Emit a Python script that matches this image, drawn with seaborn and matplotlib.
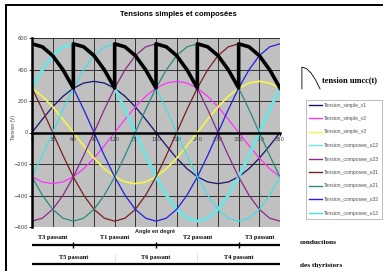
import matplotlib
matplotlib.use("Agg")
import matplotlib.pyplot as plt
from matplotlib.lines import Line2D
from matplotlib.patches import Rectangle
import seaborn as sns

# ------------------ DONNEES ------------------ #

angles = [0, 15, 30, 45, 60, 75, 90, 105, 120, 135, 150, 165, 180,
          195, 210, 225, 240, 255, 270, 285, 300, 315, 330, 345, 360]

v1 = [0, 84, 163, 230, 281, 314, 325, 314, 281, 230, 163, 84, 0,
      -84, -163, -230, -281, -314, -325, -314, -281, -230, -163, -84, 0]
v2 = [-281, -314, -325, -314, -281, -230, -163, -84, 0, 84, 163, 230, 281,
      314, 325, 314, 281, 230, 163, 84, 0, -84, -163, -230, -281]
v3 = [281, 230, 163, 84, 0, -84, -163, -230, -281, -314, -325, -314, -281,
      -230, -163, -84, 0, 84, 163, 230, 281, 314, 325, 314, 281]
u12 = [282, 398, 488, 544, 563, 544, 488, 398, 282, 146, 0, -146, -282,
       -398, -488, -544, -563, -544, -488, -398, -282, -146, 0, 146, 282]
u23 = [-563, -544, -488, -398, -282, -146, 0, 146, 282, 398, 488, 544, 563,
       544, 488, 398, 282, 146, 0, -146, -282, -398, -488, -544, -563]
u31 = [282, 146, 0, -146, -282, -398, -488, -544, -563, -544, -488, -398, -282,
       -146, 0, 146, 282, 398, 488, 544, 563, 544, 488, 398, 282]
u21 = [-282, -398, -488, -544, -563, -544, -488, -398, -282, -146, 0, 146, 282,
       398, 488, 544, 563, 544, 488, 398, 282, 146, 0, -146, -282]
u32 = [563, 544, 488, 398, 282, 146, 0, -146, -282, -398, -488, -544, -563,
       -544, -488, -398, -282, -146, 0, 146, 282, 398, 488, 544, 563]
u13 = [-282, -146, 0, 146, 282, 398, 488, 544, 563, 544, 488, 398, 282,
       146, 0, -146, -282, -398, -488, -544, -563, -544, -488, -398, -282]

umcc_angle = [0, 15, 30, 45, 60, 60, 75, 90, 105, 120, 120, 135, 150, 165, 180,
              180, 195, 210, 225, 240, 240, 255, 270, 285, 300, 300, 315, 330, 345, 360]
umcc = [563, 544, 488, 398, 282, 563, 544, 488, 398, 282, 563, 544, 488, 398, 282,
        563, 544, 488, 398, 282, 563, 544, 488, 398, 282, 563, 544, 488, 398, 282]

noms = ["Tension_simple_v1", "Tension_simple_v2", "Tension_simple_v3",
        "Tension_composee_u12", "Tension_composee_u23", "Tension_composee_u31",
        "Tension_composee_u21", "Tension_composee_u32", "Tension_composee_u13"]
series = [v1, v2, v3, u12, u23, u31, u21, u32, u13]
couleurs = ["#141470", "#ff33ff", "#f5f54a", "#70e4e4", "#8a2a8a",
            "#7a1f1f", "#2a8a80", "#2020e0", "#40e0e8"]
epaisseurs = [0.9, 0.9, 1.2, 2.2, 0.9, 0.9, 0.9, 0.9, 0.9]

x_ticks = [0, 30, 60, 90, 120, 150, 180, 210, 240, 270, 300, 330, 360]
y_ticks = [-600, -400, -200, 0, 200, 400, 600]

conduction_haut = [("T3 passant", 0, 60), ("T1 passant", 60, 180),
                   ("T2 passant", 180, 300), ("T3 passant", 300, 360)]
conduction_bas = [("T5 passant", 0, 120), ("T6 passant", 120, 240),
                  ("T4 passant", 240, 360)]

# ------------------ FIGURE ------------------ #

W, H = 383, 271
fig = plt.figure(figsize=(W / 100, H / 100), dpi=100)
serif = "Liberation Serif"
sans = "Liberation Sans"

# cadre exterieur
fig.patches.append(Rectangle((6 / W, -0.02), 1.05, 1 - 5 / H + 0.02,
                             transform=fig.transFigure, fill=False,
                             edgecolor="black", lw=1.4))

ax = fig.add_axes([32 / W, 1 - 227 / H, (280 - 32) / W, (227 - 38) / H])
ax.set_facecolor("#c0c0c0")

for nom, vals, col, lw in zip(noms, series, couleurs, epaisseurs):
    sns.lineplot(x=angles, y=vals, color=col, lw=lw, ax=ax,
                 estimator=None, sort=False, legend=False)
sns.lineplot(x=umcc_angle, y=umcc, color="black", lw=2.6, ax=ax,
             estimator=None, sort=False, legend=False)

ax.set_xlim(0, 360)
ax.set_ylim(-600, 600)
ax.set_xticks(x_ticks)
ax.set_yticks(y_ticks)
ax.grid(True, color="#303030", lw=0.7)
ax.set_axisbelow(True)
ax.spines["bottom"].set_position(("data", 0))
ax.spines["bottom"].set_linewidth(1.8)
ax.spines["left"].set_linewidth(1.8)
ax.spines["top"].set_visible(False)
ax.spines["right"].set_visible(False)
ax.tick_params(axis="both", labelsize=3.8, labelcolor="#404040",
               length=2, width=0.6, pad=1)
ax.set_xlabel("")
ax.set_ylabel("")

fig.text(178 / W, 1 - 14 / H, "Tensions simples et composées", ha="center",
         va="center", fontsize=5.5, fontweight="bold", family=sans)
fig.text(155 / W, 1 - 231 / H, "Angle en degré", ha="center", va="center",
         fontsize=4, fontweight="bold", family=sans, color="#202020")
fig.text(13 / W, 1 - 128 / H, "Tension (V)", ha="center", va="center",
         rotation=90, fontsize=3.5, family=sans, color="#404040")

# ------------------ LEGENDE ------------------ #

handles = [Line2D([0], [0], color=c, lw=1.0) for c in couleurs]
leg = fig.legend(handles, noms, loc="upper left",
                 bbox_to_anchor=(303 / W, 1 - 97 / H),
                 frameon=True, fancybox=False, edgecolor="#a0a0a0",
                 handlelength=2.6, handletextpad=0.4, labelspacing=1.7,
                 borderpad=0.6, prop={"family": sans, "size": 3.6})
for t in leg.get_texts():
    t.set_color("#505050")
leg.get_frame().set_linewidth(0.6)

# icone umcc
ax_ic = fig.add_axes([301 / W, 1 - 90 / H, 20 / W, 24 / H])
sns.lineplot(x=umcc_angle[4:10], y=umcc[4:10], color="black", lw=0.6,
             ax=ax_ic, estimator=None, sort=False, legend=False)
ax_ic.axis("off")
fig.text(322 / W, 1 - 80 / H, "tension umcc(t)", ha="left", va="center",
         fontsize=6, fontweight="bold", family=serif)

# ------------------ CONDUCTIONS ------------------ #

ax_c = fig.add_axes([32 / W, 0, (280 - 32) / W, 1 - 232 / H])
ax_c.set_xlim(0, 360)
ax_c.set_ylim(H, 232)
ax_c.axis("off")
ax_c.hlines([245, 264], 0, 360, color="black", lw=1.6)
for nom, a, b in conduction_haut:
    ax_c.text((a + b) / 2, 238, nom, ha="center", va="center", fontsize=4.6,
              fontweight="bold", family=serif)
    if b < 360:
        ax_c.vlines(b, 242, 248, color="black", lw=1.0)
for nom, a, b in conduction_bas:
    ax_c.text((a + b) / 2, 258, nom, ha="center", va="center", fontsize=4.6,
              fontweight="bold", family=serif)
    if b < 360:
        ax_c.vlines(b, 254, 262, color="#d8d8d8", lw=0.5)

fig.text(300 / W, 1 - 243 / H, "conductions", ha="left", va="center",
         fontsize=5.2, fontweight="bold", family=serif)
fig.text(300 / W, 1 - 265 / H, "des thyristors", ha="left", va="center",
         fontsize=5.2, fontweight="bold", family=serif)

fig.savefig("out.png", dpi=100)
plt.close(fig)
